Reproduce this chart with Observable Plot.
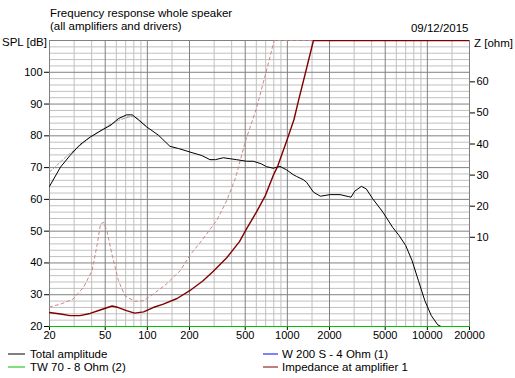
<!DOCTYPE html>
<html><head><meta charset="utf-8">
<script src="https://cdn.jsdelivr.net/npm/d3@7"></script>
<script src="https://cdn.jsdelivr.net/npm/@observablehq/plot@0.6"></script>
<style>
body{margin:0;background:#fff;}
#chart{position:relative;width:515px;height:378px;overflow:hidden;background:#fff}
</style></head><body><div id="chart"></div>
<script>
// ---- Tick labels / grid ----
const xTickLabels = [20, 50, 100, 200, 500, 1000, 2000, 5000, 10000, 20000];
const xMinorGrid = [30, 40, 60, 70, 80, 90, 150, 300, 400, 600, 700, 800, 900, 1500, 3000, 4000, 6000, 7000, 8000, 9000, 15000];
const splTicks = [20, 30, 40, 50, 60, 70, 80, 90, 100];
const zTicks = [10, 20, 30, 40, 50, 60];
const splDomain = [20, 110];
const zDomain = [-18.7, 73.3];

// ---- Total amplitude (black) ----
const totalFreq = [20, 24, 28, 33, 39, 46, 55, 62, 71, 78, 86, 99, 120, 145, 167, 205, 245, 280, 306, 349, 434, 511, 571, 650, 710, 793, 884, 987, 1100, 1165, 1300, 1371, 1535, 1720, 2020, 2378, 2720, 2850, 3030, 3380, 3660, 4070, 4810, 5650, 6290, 7000, 7780, 8640, 9600, 10680, 11880, 12550, 20000];
const totalDb = [64.1, 70.2, 73.8, 77.2, 79.6, 81.5, 83.4, 85.4, 86.6, 86.6, 85.1, 82.8, 80.2, 76.7, 76.0, 74.8, 73.8, 72.5, 72.5, 73.1, 72.5, 72.0, 72.0, 71.2, 70.3, 69.8, 70.4, 69.3, 67.8, 67.2, 66.2, 65.4, 62.3, 61.0, 61.5, 61.5, 60.9, 60.7, 62.6, 64.1, 63.3, 60.2, 56.0, 51.2, 48.6, 45.5, 40.7, 34.4, 28.1, 23.4, 20.5, 20, 20];

// ---- Reference total amplitude (grey dashed) ----
const refTotalFreq = [20, 23.2, 27.3, 32.2, 37.9, 44.7, 52.7, 62.2, 73.3, 80, 88, 100];
const refTotalDb = [68.6, 71.2, 74.1, 76.5, 79.1, 81.2, 83.3, 84.9, 85.9, 86.2, 85.0, 82.6];

// ---- Drivers (clamped at bottom of chart) ----
const wooferFreq = [20, 20000];
const wooferDb = [20, 20];
const tweeterFreq = [20, 20000];
const tweeterDb = [20, 20];

// ---- Impedance at amplifier 1 (ohm, right axis) ----
const impFreq = [20, 24, 28, 33, 39, 46, 56, 62, 71, 81, 94, 110, 130, 163, 202, 250, 296, 369, 455, 511, 601, 696, 793, 854, 987, 1114, 1200, 1371, 1536, 20000];
const impOhm = [-14.2, -14.7, -15.2, -15.2, -14.5, -13.4, -12.1, -12.6, -13.6, -14.4, -14.0, -12.6, -11.5, -9.7, -7.1, -4.0, -0.9, 3.4, 8.6, 12.7, 18.1, 23.4, 29.9, 32.9, 40.9, 47.8, 53.9, 64.3, 73.3, 73.3];

// ---- Reference impedance (pink dashed, ohm) ----
const refImpFreq = [20, 24, 29.4, 35, 40.3, 43.9, 46.3, 48.7, 51.3, 55.8, 62.2, 69.1, 81, 94, 110, 137, 172, 202, 250, 282, 312, 369, 424, 445, 499, 601, 696, 805, 20000];
const refImpOhm = [-12.4, -11.5, -9.9, -6.1, -0.7, 7.9, 14.3, 14.8, 12.2, 4.6, -4.0, -8.8, -10.6, -10.4, -8.3, -5.0, -0.7, 4.3, 9.5, 12.7, 15.3, 21.8, 28.8, 32.1, 40.6, 51.4, 62.2, 73.3, 73.3];

// ---- Text ----
const titleLines = ["Frequency response whole speaker", "(all amplifiers and drivers)"];
const dateText = "09/12/2015";
const leftAxisTitle = "SPL [dB]";
const rightAxisTitle = "Z [ohm]";
const legendNames = ["Total amplitude", "TW 70 - 8 Ohm (2)", "W 200 S - 4 Ohm (1)", "Impedance at amplifier 1"];
const legendColors = ["#000000", "#00c000", "#0000ff", "#800000"];

// ---- Build ----
const zToDb = d3.scaleLinear().domain(zDomain).range(splDomain);
const zip = (fs, vs) => fs.map((f, i) => ({f, v: vs[i]}));
const total = zip(totalFreq, totalDb);
const refTotal = zip(refTotalFreq, refTotalDb);
const woofer = zip(wooferFreq, wooferDb);
const tweeter = zip(tweeterFreq, tweeterDb);
const imp = zip(impFreq, impOhm.map(z => zToDb(z)));
const refImp = zip(refImpFreq, refImpOhm.map(z => zToDb(z)));

const majorY = d3.range(30, 110, 10);
const minorY = d3.range(22, 110, 2).filter(v => v % 10 !== 0);
const majorX = xTickLabels.slice(1, -1);

const fontFamily = "'Liberation Sans', Arial, sans-serif";
const plot = Plot.plot({
  width: 515, height: 378,
  marginLeft: 49, marginRight: 46, marginTop: 40, marginBottom: 52,
  style: {fontFamily, fontSize: "11px", background: "#fff", color: "#000"},
  x: {type: "log", domain: [20, 20000]},
  y: {domain: splDomain},
  marks: [
    Plot.ruleX(xMinorGrid, {stroke: "#c0c0c0"}),
    Plot.ruleY(minorY, {stroke: "#c0c0c0"}),
    Plot.ruleX(majorX, {stroke: "#808080"}),
    Plot.ruleY(majorY, {stroke: "#808080"}),
    Plot.frame({stroke: "#808080"}),
    Plot.axisX(xTickLabels, {tickSize: 4, tickFormat: () => "", label: null, stroke: "#000"}),
    Plot.text(xTickLabels, {x: d => d, frameAnchor: "bottom", dy: 12, text: d => String(d), fill: "#000", fontSize: 11}),
    Plot.axisY(splTicks, {anchor: "left", tickSize: 5, tickPadding: 2, label: null, stroke: "#000", fill: "#000"}),
    Plot.axisY(zTicks.map(z => zToDb(z)), {anchor: "right", tickSize: 5, tickPadding: 2, label: null, tickFormat: d => String(Math.round(zToDb.invert(d))), stroke: "#000", fill: "#000"}),
    Plot.line(woofer, {x: "f", y: "v", stroke: legendColors[2], strokeWidth: 1.2}),
    Plot.line(tweeter, {x: "f", y: "v", stroke: legendColors[1], strokeWidth: 1.2}),
    Plot.line(refTotal, {x: "f", y: "v", stroke: "#a0a0a0", strokeWidth: 1, strokeDasharray: "3,2", clip: true}),
    Plot.line(refImp, {x: "f", y: "v", stroke: "#c88888", strokeWidth: 1, strokeDasharray: "3,3", clip: true}),
    Plot.line(total, {x: "f", y: "v", stroke: legendColors[0], strokeWidth: 1, clip: true}),
    Plot.line(imp, {x: "f", y: "v", stroke: legendColors[3], strokeWidth: 1.4, clip: true})
  ]
});
document.getElementById("chart").appendChild(plot);

const svg = d3.select(plot);
const addText = (t, x, y, anchor = "start") =>
  svg.append("text").attr("x", x).attr("y", y).attr("text-anchor", anchor)
    .attr("fill", "#000").style("font-family", fontFamily).style("font-size", "11.5px").text(t);
addText(titleLines[0], 50, 17);
addText(titleLines[1], 50, 29.5);
addText(dateText, 468.5, 31.5, "end");
addText(leftAxisTitle, 2, 46);
addText(rightAxisTitle, 474, 46.5);

const legendPos = [[8, 353.5], [8, 366.5], [263, 353.5], [263, 366.5]];
legendNames.forEach((name, i) => {
  const [lx, ly] = legendPos[i];
  const w = i < 2 ? 17 : 15;
  svg.append("line").attr("x1", lx).attr("x2", lx + w).attr("y1", ly + 0.5).attr("y2", ly + 0.5)
    .attr("stroke", legendColors[i]).attr("stroke-width", 1);
  addText(name, lx + w + (i < 2 ? 5 : 4), ly + 4.5);
});
</script>
</body></html>
